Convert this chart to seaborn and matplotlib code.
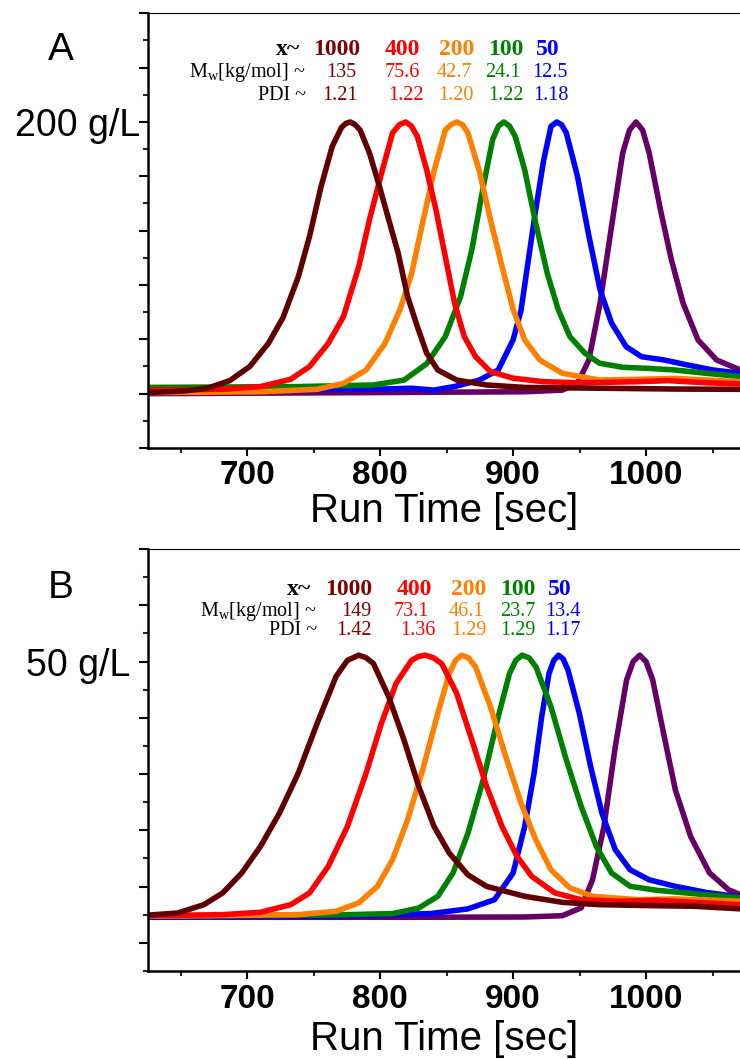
import matplotlib
matplotlib.use("Agg")
import matplotlib.pyplot as plt
import numpy as np
import pandas as pd
import seaborn as sns
from matplotlib.ticker import FixedLocator, FixedFormatter, NullFormatter

# ---------------- data (signal normalised to peak = 1) ----------------
series_names = ["1000", "400", "200", "100", "50", "ref"]
curve_colors = ["#600000", "#FF0000", "#FF8000", "#008000", "#0000FF", "#660066"]
text_colors = ["#800000", "#FF0000", "#FF8000", "#008000", "#0000FF"]

# Panel A (200 g/L)
a_t_1000 = [625, 653, 670, 687, 702, 716, 727, 738.5, 747, 755.5, 764, 771, 774.3, 777.6, 781.3, 785, 792,
            799.5, 806.5, 813.6, 820.7, 828, 835, 843.4, 857.6, 880, 908.7, 965, 1022, 1071]
a_y_1000 = [0.004, 0.01, 0.02, 0.048, 0.10, 0.185, 0.28, 0.43, 0.58, 0.76, 0.91, 0.98, 0.995, 1.0, 0.99,
            0.97, 0.886, 0.763, 0.64, 0.517, 0.357, 0.247, 0.149, 0.087, 0.05, 0.032, 0.023, 0.02, 0.017,
            0.016]
a_t_400 = [625, 681.7, 710, 732.8, 747, 761, 772.5, 784, 792, 801, 809.4, 814.5, 819.3, 823.5, 828, 835,
           842, 849, 856, 863.3, 871.8, 883, 900, 923, 951, 994, 1016.5, 1045, 1071]
a_y_400 = [0.013, 0.016, 0.026, 0.053, 0.10, 0.185, 0.284, 0.468, 0.64, 0.81, 0.96, 0.99, 1.0, 0.985,
           0.947, 0.824, 0.677, 0.505, 0.333, 0.21, 0.136, 0.081, 0.057, 0.044, 0.04, 0.044, 0.048, 0.04,
           0.036]
a_t_200 = [625, 710, 752.7, 772.5, 789.5, 803.7, 815, 823.6, 832, 840.6, 849, 853.3, 857.6, 862, 866,
           874.6, 883, 891.7, 900, 908.7, 920, 937, 965, 994, 1022, 1071]
a_y_200 = [0.004, 0.007, 0.016, 0.038, 0.087, 0.185, 0.31, 0.44, 0.63, 0.82, 0.97, 0.99, 1.0, 0.99, 0.96,
           0.82, 0.64, 0.468, 0.31, 0.198, 0.124, 0.075, 0.05, 0.053, 0.056, 0.044]
a_t_100 = [625, 738.5, 795, 818, 835, 849, 860.5, 869, 877.5, 884.6, 889, 893, 897.3, 901.6, 908.7, 917,
           925.7, 934, 942.7, 954, 965, 982.4, 1002, 1022, 1045, 1071]
a_y_100 = [0.023, 0.026, 0.032, 0.05, 0.11, 0.21, 0.357, 0.53, 0.76, 0.935, 0.985, 1.0, 0.985, 0.947,
           0.824, 0.628, 0.443, 0.308, 0.21, 0.149, 0.112, 0.097, 0.093, 0.087, 0.075, 0.063]
a_t_50 = [625, 710, 795, 823.6, 840.6, 857.6, 874.6, 888.8, 900, 906, 911.5, 917, 923, 928.5, 932.8, 936.4,
          940, 948.4, 957, 965.4, 974, 985, 996.6, 1013.6, 1030.7, 1050.5, 1071]
a_y_50 = [0.02, 0.016, 0.016, 0.02, 0.013, 0.028, 0.05, 0.087, 0.198, 0.308, 0.493, 0.677, 0.86, 0.984,
          1.0, 0.99, 0.96, 0.8, 0.58, 0.382, 0.26, 0.173, 0.136, 0.124, 0.106, 0.087, 0.075]
a_t_ref = [625, 795, 908.7, 937, 948.4, 957, 965.4, 974, 982.4, 987.5, 992.4, 997.4, 1002.3, 1010.8, 1019,
           1027.8, 1039, 1053, 1071]
a_y_ref = [0.0, 0.004, 0.007, 0.013, 0.038, 0.124, 0.333, 0.615, 0.886, 0.97, 1.0, 0.97, 0.886, 0.677,
           0.493, 0.333, 0.198, 0.124, 0.087]

# Panel B (50 g/L)
b_t_1000 = [625, 647.7, 667.5, 681.7, 696, 710, 724.3, 738.5, 752.7, 766.8, 775.4, 783.9, 789.5, 795,
            806.5, 818, 829, 840.6, 852, 866, 880, 908.7, 937, 965.4, 1008, 1036, 1071]
b_y_1000 = [0.008, 0.016, 0.048, 0.093, 0.169, 0.27, 0.397, 0.55, 0.74, 0.918, 0.98, 1.0, 0.99, 0.968,
            0.841, 0.676, 0.5, 0.346, 0.245, 0.162, 0.118, 0.08, 0.057, 0.048, 0.044, 0.042, 0.032]
b_t_400 = [625, 681.7, 710, 732.8, 747, 761, 775.4, 789.5, 801, 812, 823.6, 829, 834, 840, 846.3, 857.6,
           869, 880, 891.7, 903, 914, 931.4, 951, 979.6, 1008, 1036, 1071]
b_y_400 = [0.006, 0.01, 0.019, 0.048, 0.093, 0.194, 0.346, 0.55, 0.74, 0.892, 0.98, 0.995, 1.0, 0.99,
           0.968, 0.854, 0.676, 0.5, 0.346, 0.232, 0.156, 0.093, 0.067, 0.061, 0.065, 0.057, 0.048]
b_t_200 = [625, 738.5, 767, 784, 798, 809.4, 820.7, 832, 843.4, 852, 856.7, 861.3, 866.5, 871.8, 883,
           894.5, 906, 917, 928.5, 942.7, 959.7, 994, 1022, 1071]
b_y_200 = [0.004, 0.01, 0.023, 0.055, 0.118, 0.22, 0.372, 0.562, 0.778, 0.93, 0.98, 1.0, 0.99, 0.955,
           0.803, 0.613, 0.435, 0.296, 0.181, 0.112, 0.08, 0.067, 0.07, 0.061]
b_t_100 = [625, 767, 809.4, 829, 843.4, 854.8, 866, 877.5, 888.8, 897.3, 902, 906.7, 912, 917.2, 928.5,
           940, 951.2, 962.6, 974, 988, 1008, 1036, 1071]
b_y_100 = [0.004, 0.009, 0.014, 0.035, 0.08, 0.169, 0.32, 0.524, 0.765, 0.93, 0.98, 1.0, 0.99, 0.955,
           0.803, 0.6, 0.423, 0.27, 0.169, 0.118, 0.103, 0.09, 0.074]
b_t_50 = [625, 767, 837.8, 866, 886, 900, 908.7, 915.8, 921.5, 927, 930.6, 934.2, 937.7, 941.3, 949.8,
          958.3, 966.8, 976.8, 988, 1002.3, 1022, 1045, 1071]
b_y_50 = [0.001, 0.004, 0.014, 0.032, 0.067, 0.169, 0.346, 0.55, 0.765, 0.93, 0.98, 1.0, 0.985, 0.943,
          0.778, 0.575, 0.397, 0.258, 0.181, 0.143, 0.118, 0.095, 0.077]
b_t_ref = [625, 823.6, 908.7, 937, 951.2, 959.7, 968.3, 976.8, 985.3, 990.2, 995.2, 1000, 1005, 1013.6,
           1022, 1033.5, 1047.7, 1062, 1071]
b_y_ref = [0.0, 0.0, 0.001, 0.006, 0.036, 0.143, 0.346, 0.65, 0.905, 0.975, 1.0, 0.975, 0.905, 0.69,
           0.486, 0.308, 0.169, 0.105, 0.086]

x_labels = ["1000", "400", "200", "100", "50"]
a_mw = ["135", "75.6", "42.7", "24.1", "12.5"]
a_pdi = ["1.21", "1.22", "1.20", "1.22", "1.18"]
b_mw = ["149", "73.1", "46.1", "23.7", "13.4"]
b_pdi = ["1.42", "1.36", "1.29", "1.29", "1.17"]

x_ticks = [700, 800, 900, 1000]
x_tick_labels = ["700", "800", "900", "1000"]

# ---------------- style ----------------
sns.set_theme(style="white")
plt.rcParams["font.family"] = ["Liberation Sans", "DejaVu Sans"]
plt.rcParams["mathtext.fontset"] = "custom"
plt.rcParams["mathtext.rm"] = "Liberation Serif"
plt.rcParams["mathtext.it"] = "Liberation Serif:italic"
plt.rcParams["mathtext.bf"] = "Liberation Serif:bold"

W, H = 740, 1059
fig = plt.figure(figsize=(W / 100, H / 100), dpi=100)
fig.patch.set_facecolor("white")


def px(x, y):
    return x / W, 1 - y / H


def make_df(ts, ys):
    frames = []
    for name, t, y in zip(series_names, ts, ys):
        frames.append(pd.DataFrame({"time": t, "signal": y, "series": name}))
    return pd.concat(frames, ignore_index=True)


df_a = make_df([a_t_1000, a_t_400, a_t_200, a_t_100, a_t_50, a_t_ref],
               [a_y_1000, a_y_400, a_y_200, a_y_100, a_y_50, a_y_ref])
df_b = make_df([b_t_1000, b_t_400, b_t_200, b_t_100, b_t_50, b_t_ref],
               [b_y_1000, b_y_400, b_y_200, b_y_100, b_y_50, b_y_ref])

palette = dict(zip(series_names, curve_colors))
draw_order = ["ref", "50", "100", "200", "400", "1000"]

ax_a = fig.add_axes([148 / W, 1 - 448 / H, (W - 148) / W, (448 - 13.3) / H])
ax_b = fig.add_axes([148 / W, 1 - 971 / H, (W - 148) / W, (971 - 549) / H])


def style_axes(ax, df, ylo, yhi, major, minor, label_tick, ylabel_txt, ypad, xlabelpad):
    sns.lineplot(data=df, x="time", y="signal", hue="series", hue_order=draw_order,
                 palette=palette, estimator=None, sort=False, legend=False,
                 linewidth=4.0, ax=ax, solid_joinstyle="round", solid_capstyle="round")
    ax.set_xlim(625.5, 1070.6)
    ax.set_ylim(ylo, yhi)
    ax.set_facecolor("white")
    ax.spines["right"].set_visible(False)
    ax.spines["top"].set_linewidth(0.8)
    ax.spines["left"].set_linewidth(1.8)
    ax.spines["bottom"].set_linewidth(1.8)
    for s in ["top", "left", "bottom"]:
        ax.spines[s].set_color("black")
    ax.xaxis.set_major_locator(FixedLocator(x_ticks))
    ax.xaxis.set_major_formatter(FixedFormatter(x_tick_labels))
    ax.xaxis.set_minor_locator(FixedLocator([650, 750, 850, 950, 1050]))
    ax.yaxis.set_major_locator(FixedLocator(major))
    ax.yaxis.set_major_formatter(FixedFormatter([ylabel_txt if i == label_tick else ""
                                                 for i in range(len(major))]))
    ax.yaxis.set_minor_locator(FixedLocator(minor))
    ax.yaxis.set_minor_formatter(NullFormatter())
    ax.tick_params(axis="x", which="major", direction="out", length=6, width=1.5, pad=3,
                   bottom=True, top=False, labelsize=24, colors="black")
    ax.tick_params(axis="x", which="minor", direction="out", length=3.5, width=1.5,
                   bottom=True, top=False)
    ax.tick_params(axis="y", which="major", direction="out", length=6.5, width=1.5, pad=ypad,
                   left=True, right=False, labelsize=27, colors="black")
    ax.tick_params(axis="y", which="minor", direction="out", length=3.6, width=1.5,
                   left=True, right=False)
    for lab in ax.get_xticklabels():
        lab.set_fontweight("bold")
    ax.set_xlabel("Run Time [sec]", fontsize=29, labelpad=xlabelpad, color="black")
    ax.set_ylabel("")


# panel A: ticks every 0.1 (major every 0.2), label on 1.0
major_a = [1.4, 1.2, 1.0, 0.8, 0.6, 0.4, 0.2, 0.0, -0.2]
minor_a = [1.3, 1.1, 0.9, 0.7, 0.5, 0.3, 0.1, -0.1]
style_axes(ax_a, df_a, -0.2, 1.4, major_a, minor_a, 2, "200 g/L", -1, 0)

# panel B: 15 equal tick intervals over the axis, label on the 5th tick from the top
b_lo, b_hi = -0.205, 1.405
b_ticks = [b_hi - k * (b_hi - b_lo) / 15 for k in range(16)]
major_b = b_ticks[0::2]
minor_b = b_ticks[1::2]
style_axes(ax_b, df_b, b_lo, b_hi, major_b, minor_b, 2, "50 g/L", 6, 4)

# panel letters
fig.text(*px(61, 60), "A", fontsize=28, ha="center", va="baseline", color="black")
fig.text(*px(61, 598), "B", fontsize=28, ha="center", va="baseline", color="black")

serif = ["Liberation Serif", "DejaVu Serif"]


def header(lab_right, row_y, c1, c2, c3, mw, pdi):
    fig.text(*px(lab_right, row_y[0]), "x~", fontsize=17, fontweight="bold", family=serif,
             ha="right", va="baseline", color="black")
    fig.text(*px(lab_right + 6, row_y[1]), r"M$_{\mathrm{w}}$[kg/mol] ~", fontsize=14.5,
             family=serif, ha="right", va="baseline", color="black")
    fig.text(*px(lab_right + 6, row_y[2]), "PDI ~", fontsize=14.5, family=serif,
             ha="right", va="baseline", color="black")
    for i in range(5):
        fig.text(*px(c1[i], row_y[0]), x_labels[i], fontsize=17, fontweight="bold", family=serif,
                 ha="center", va="baseline", color=text_colors[i])
        fig.text(*px(c2[i], row_y[1]), mw[i], fontsize=14.5, family=serif,
                 ha="center", va="baseline", color=text_colors[i])
        fig.text(*px(c3[i], row_y[2]), pdi[i], fontsize=14.5, family=serif,
                 ha="center", va="baseline", color=text_colors[i])


header(300, [55, 77, 100],
       [337, 402, 457, 506, 548], [341, 402, 454, 503, 550], [340, 406, 456, 506, 551],
       a_mw, a_pdi)
header(311, [595, 616, 635],
       [349, 414, 469, 518, 560], [356, 411, 466, 518, 563], [354, 418, 469, 518, 563],
       b_mw, b_pdi)

fig.savefig("out.png", dpi=100, facecolor="white")
